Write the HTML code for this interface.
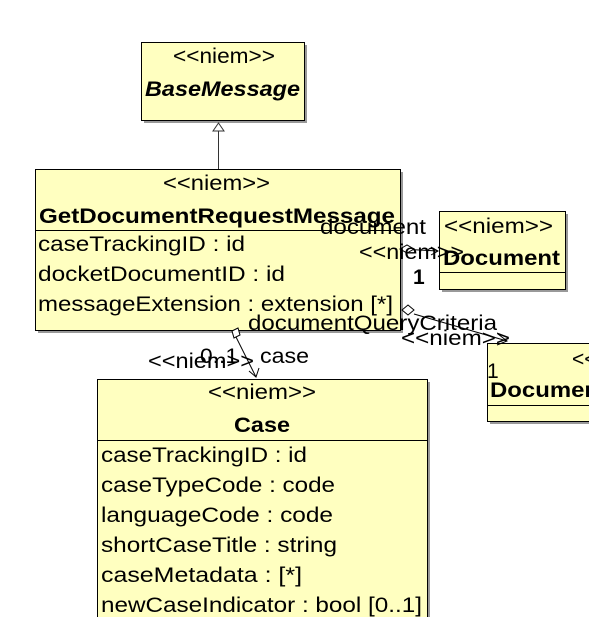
<!DOCTYPE html>
<html><head><meta charset="utf-8"><style>
html,body{margin:0;padding:0;background:#fff;width:589px;height:617px;overflow:hidden}
svg{display:block}
text{font-family:"Liberation Sans",sans-serif;fill:#000;font-size:21px}
.b{font-weight:bold}
</style></head><body>
<svg width="589" height="617" viewBox="0 0 589 617">
<g fill="#999" stroke="none">
<rect x="144" y="45" width="163" height="78"/>
<rect x="38" y="172" width="365" height="161"/>
<rect x="442" y="214" width="126" height="78"/>
<rect x="490" y="346" width="110" height="78"/>
<rect x="100" y="382" width="330" height="240"/>
</g>
<g fill="#ffffc0" stroke="#000" stroke-width="1">
<rect x="141.5" y="42.5" width="163" height="78"/>
<rect x="35.5" y="169.5" width="365" height="161"/>
<rect x="439.5" y="211.5" width="126" height="78"/>
<rect x="487.5" y="343.5" width="110" height="78"/>
<rect x="97.5" y="379.5" width="330" height="250"/>
</g>
<g stroke="#000" stroke-width="1">
<line x1="35" y1="230.5" x2="400" y2="230.5"/>
<line x1="439" y1="272.5" x2="565" y2="272.5"/>
<line x1="487" y1="405.5" x2="589" y2="405.5"/>
<line x1="97" y1="440.5" x2="427" y2="440.5"/>
<line x1="218.5" y1="131" x2="218.5" y2="169" stroke="#333"/>
<line x1="400" y1="249" x2="438" y2="251"/>
<line x1="414" y1="314" x2="507" y2="341"/>
<line x1="236" y1="337" x2="256" y2="377"/>
</g>
<polygon points="218.5,123 213,131 224,131" fill="#fff" stroke="#333"/>
<polygon points="400,249 407,245 414,249 407,253" fill="#fff" stroke="#000"/>
<polyline points="431,247 438,251 431,255" fill="none" stroke="#000"/>
<polygon points="402,310 408,305 414,310 408,315" fill="#fff" stroke="#000"/>
<polyline points="498,334 507,341 497,345" fill="none" stroke="#000"/>
<polygon points="232,331 238,328 240,335 234,338" fill="#fff" stroke="#000"/>
<polyline points="249,371 256,377 259,368" fill="none" stroke="#000"/>
<g lengthAdjust="spacingAndGlyphs">
<text x="173" y="63" textLength="102" lengthAdjust="spacingAndGlyphs">&lt;&lt;niem&gt;&gt;</text>
<text x="145" y="96" textLength="155" lengthAdjust="spacingAndGlyphs" class="b" font-style="italic">BaseMessage</text>
<text x="163" y="190" textLength="107" lengthAdjust="spacingAndGlyphs">&lt;&lt;niem&gt;&gt;</text>
<text x="39" y="223" textLength="356" lengthAdjust="spacingAndGlyphs" class="b">GetDocumentRequestMessage</text>
<text x="38" y="251" textLength="207" lengthAdjust="spacingAndGlyphs">caseTrackingID : id</text>
<text x="38" y="281" textLength="247" lengthAdjust="spacingAndGlyphs">docketDocumentID : id</text>
<text x="38" y="311" textLength="355" lengthAdjust="spacingAndGlyphs">messageExtension : extension [*]</text>
<text x="444" y="233" textLength="109" lengthAdjust="spacingAndGlyphs">&lt;&lt;niem&gt;&gt;</text>
<text x="443" y="265" textLength="117" lengthAdjust="spacingAndGlyphs" class="b">Document</text>
<text x="572" y="366">&lt;&lt;</text>
<text x="490" y="397" textLength="117" lengthAdjust="spacingAndGlyphs" class="b">Document</text>
<text x="208" y="399" textLength="108" lengthAdjust="spacingAndGlyphs">&lt;&lt;niem&gt;&gt;</text>
<text x="234" y="432" textLength="56" lengthAdjust="spacingAndGlyphs" class="b">Case</text>
<text x="101" y="462" textLength="206" lengthAdjust="spacingAndGlyphs">caseTrackingID : id</text>
<text x="101" y="492" textLength="234" lengthAdjust="spacingAndGlyphs">caseTypeCode : code</text>
<text x="101" y="522" textLength="232" lengthAdjust="spacingAndGlyphs">languageCode : code</text>
<text x="101" y="552" textLength="236" lengthAdjust="spacingAndGlyphs">shortCaseTitle : string</text>
<text x="101" y="582" textLength="201" lengthAdjust="spacingAndGlyphs">caseMetadata :  [*]</text>
<text x="101" y="612" textLength="321" lengthAdjust="spacingAndGlyphs">newCaseIndicator : bool [0..1]</text>
<text x="320" y="234" textLength="106" lengthAdjust="spacingAndGlyphs">document</text>
<text x="359" y="259" textLength="105" lengthAdjust="spacingAndGlyphs">&lt;&lt;niem&gt;&gt;</text>
<text x="413" y="284" class="b">1</text>
<text x="248" y="330" textLength="249" lengthAdjust="spacingAndGlyphs">documentQueryCriteria</text>
<text x="401" y="345" textLength="109" lengthAdjust="spacingAndGlyphs">&lt;&lt;niem&gt;&gt;</text>
<text x="487" y="378">1</text>
<text x="148" y="368" textLength="106" lengthAdjust="spacingAndGlyphs">&lt;&lt;niem&gt;&gt;</text>
<text x="200" y="363" textLength="38" lengthAdjust="spacingAndGlyphs">0..1</text>
<text x="260" y="363" textLength="49" lengthAdjust="spacingAndGlyphs">case</text>
</g>
</svg>
</body></html>
